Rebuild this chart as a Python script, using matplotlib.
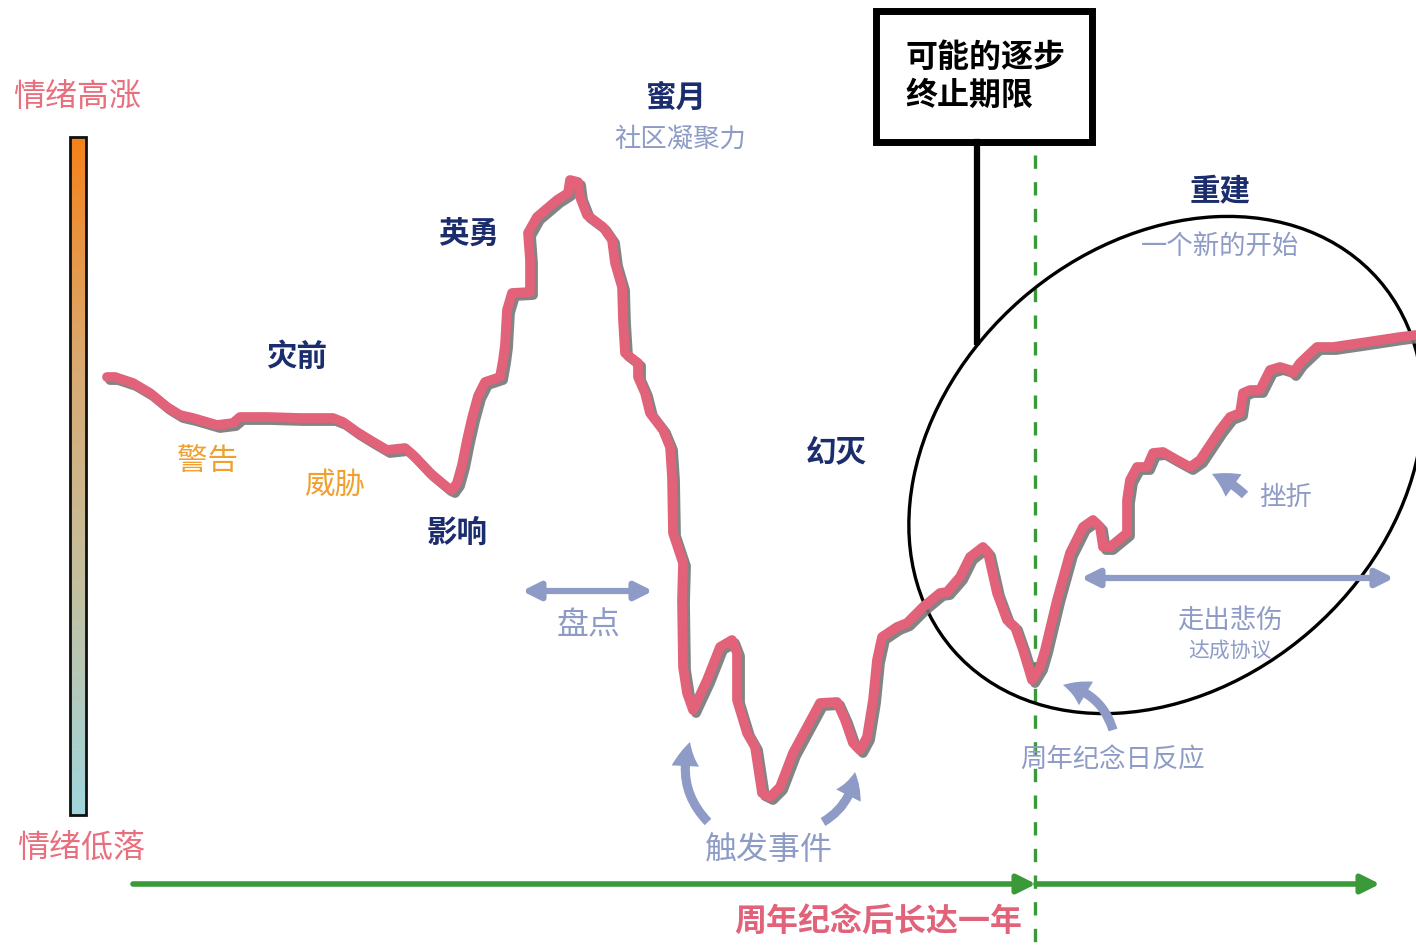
import numpy as np
import matplotlib
matplotlib.use("Agg")
import matplotlib.pyplot as plt
from matplotlib.patches import Rectangle, Ellipse, FancyArrowPatch
from matplotlib.colors import LinearSegmentedColormap
import matplotlib.patheffects as pe

plt.rcParams['font.family'] = ['Noto Sans CJK SC', 'DejaVu Sans']

# 情绪曲线 (画布像素坐标, y 向下)
curve_x = [107, 115, 133, 150, 167, 180, 193, 217, 233, 240, 267, 300, 333, 343, 357, 370, 387, 405, 413,
           430, 448, 452, 457, 462, 467, 472, 478, 485, 500, 503, 505, 507, 512, 530, 530, 528, 537, 557,
           568, 570, 578, 580, 587, 603, 612, 615, 622, 623, 625, 638, 638, 645, 650, 663, 670, 672, 673,
           683, 682, 683, 687, 693, 707, 720, 732, 737, 737, 747, 755, 758, 762, 770, 780, 793, 807, 820,
           837, 845, 853, 860, 867, 873, 877, 882, 897, 907, 923, 940, 947, 960, 970, 983, 988, 997, 1007,
           1015, 1023, 1032, 1040, 1045, 1057, 1070, 1083, 1093, 1100, 1103, 1110, 1127, 1127, 1130, 1137,
           1147, 1153, 1163, 1177, 1190, 1200, 1220, 1230, 1240, 1243, 1250, 1260, 1270, 1280, 1290, 1293,
           1300, 1317, 1333, 1367, 1400, 1416]
curve_y = [377, 377, 383, 393, 407, 415, 418, 425, 423, 417, 417, 418, 418, 422, 432, 440, 450, 448, 455,
           473, 488, 490, 483, 465, 440, 418, 396, 382, 377, 360, 345, 310, 293, 292, 260, 233, 217, 200,
           193, 180, 182, 197, 215, 227, 240, 263, 287, 320, 353, 363, 377, 393, 413, 430, 447, 477, 533,
           563, 600, 667, 693, 710, 680, 647, 640, 653, 700, 733, 747, 767, 793, 797, 787, 753, 727, 703,
           702, 720, 743, 750, 737, 700, 660, 637, 627, 623, 607, 593, 592, 577, 557, 547, 553, 593, 620,
           627, 650, 680, 667, 650, 600, 553, 527, 520, 527, 547, 547, 533, 500, 480, 467,
           467, 453, 452, 460, 467, 460, 430, 417, 413, 393, 390, 390, 370, 367, 370, 373,
           363, 347, 347, 342, 337, 335]

# 文字标签
phase_labels = ["灾前", "影响", "英勇", "蜜月", "幻灭", "重建"]
phase_pos = [(297, 357), (457, 533), (469, 234), (676, 98), (836, 452), (1220, 192)]
warn_labels = ["警告", "威胁"]
warn_pos = [(208, 462), (335, 485)]
note_labels = ["社区凝聚力", "一个新的开始", "挫折", "走出悲伤", "达成协议", "盘点", "触发事件", "周年纪念日反应"]
note_pos = [(680, 139), (1220, 246), (1285, 497), (1230, 620), (1230, 651), (589, 626), (769, 850), (1112, 760)]
note_sizes = [19, 19, 19, 19, 15, 23, 23, 19]

W, H = 1416, 952
fig = plt.figure(figsize=(W / 100, H / 100), dpi=100)
ax = fig.add_axes([0, 0, 1, 1])
ax.set_xlim(0, W)
ax.set_ylim(H, 0)
ax.axis('off')

navy = '#1c2d6e'
pink = '#e2627a'
soft = '#8d9bc6'
orange = '#f0a030'
green = '#3a9a3a'

# 左侧渐变情绪条
cmap = LinearSegmentedColormap.from_list('mood', ['#f5821a', '#d9aa70', '#c4c0a0', '#a0d6de'])
grad = np.linspace(0, 1, 256).reshape(-1, 1)
ax.imshow(grad, cmap=cmap, aspect='auto', extent=[70, 86, 815, 137], zorder=2)
ax.add_patch(Rectangle((70, 137), 16, 678, fill=False, edgecolor='#111111', lw=2, zorder=3))
ax.text(77, 97, "情绪高涨", color='#e8707e', fontsize=23, ha='center', va='center')
ax.text(81, 848, "情绪低落", color='#e8707e', fontsize=23, ha='center', va='center')

# 周年虚线
ax.plot([1035, 1035], [155, H], color=green, lw=2.4, dashes=(4, 4), zorder=2)

# 底部时间轴箭头
for x0, x1 in [(133, 1036), (1036, 1380)]:
    ax.add_patch(FancyArrowPatch((x0, 884), (x1, 884), arrowstyle='-|>', mutation_scale=28,
                                 color=green, lw=4, shrinkA=0, shrinkB=0, zorder=3))
ax.text(878, 922, "周年纪念后长达一年", color=pink, fontsize=23, fontweight='bold', ha='center', va='center')

# 重建椭圆
ax.add_patch(Ellipse((1166, 465), 564, 440, angle=-41, fill=False, edgecolor='black', lw=2.4, zorder=3))

# 标示牌
ax.add_patch(Rectangle((876, 11), 216, 131, fill=False, edgecolor='black', lw=5, zorder=4))
ax.plot([977, 977], [142, 342], color='black', lw=4.5, zorder=4)
ax.text(905, 58, "可能的逐步", color='black', fontsize=23, fontweight='bold', ha='left', va='center')
ax.text(905, 96, "终止期限", color='black', fontsize=23, fontweight='bold', ha='left', va='center')

# 主曲线 (带阴影)
ax.plot(curve_x, curve_y, color=pink, lw=7, solid_joinstyle='round', solid_capstyle='round', zorder=5,
        path_effects=[pe.SimpleLineShadow(offset=(2.2, -2.2), shadow_color='#777777', alpha=0.9), pe.Normal()])

# 阶段文字
for s, (x, y) in zip(phase_labels, phase_pos):
    ax.text(x, y, s, color=navy, fontsize=22, fontweight='bold', ha='center', va='center', zorder=6)
for s, (x, y) in zip(warn_labels, warn_pos):
    ax.text(x, y, s, color=orange, fontsize=22, ha='center', va='center', zorder=6)
for s, (x, y), fs in zip(note_labels, note_pos, note_sizes):
    ax.text(x, y, s, color=soft, fontsize=fs, ha='center', va='center', zorder=6)

# 双向箭头
for x0, x1, y in [(522, 653, 591), (1081, 1394, 578)]:
    ax.add_patch(FancyArrowPatch((x0, y), (x1, y), arrowstyle='<|-|>', mutation_scale=26,
                                 color=soft, lw=4.5, shrinkA=0, shrinkB=0, zorder=6))

# 弯曲箭头
curved = [((708, 822), (690, 742), -0.3), ((823, 822), (855, 772), 0.25),
          ((1113, 730), (1063, 685), 0.3), ((1245, 495), (1212, 474), 0.1)]
for p0, p1, rad in curved:
    ax.add_patch(FancyArrowPatch(p0, p1, connectionstyle=f'arc3,rad={rad}',
                                 arrowstyle='simple,head_width=0.9,head_length=0.8,tail_width=0.3',
                                 mutation_scale=22, color=soft, lw=0, shrinkA=0, shrinkB=0, zorder=6))

plt.savefig("out.png", dpi=100)
plt.close()
